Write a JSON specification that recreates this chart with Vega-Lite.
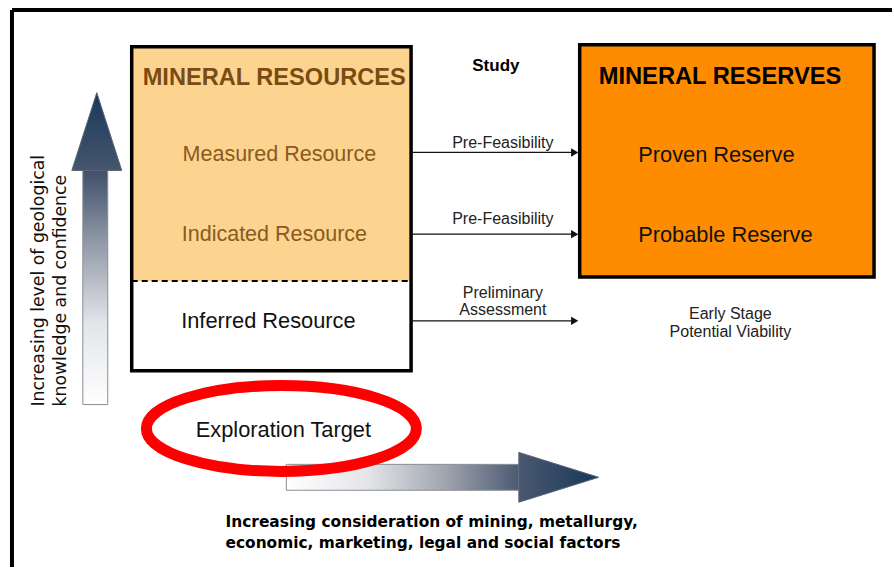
{
  "$schema": "https://vega.github.io/schema/vega-lite/v6.json",
  "width": 894,
  "height": 569,
  "padding": 0,
  "autosize": {"type": "fit", "contains": "padding"},
  "background": "#ffffff",
  "config": {"view": {"stroke": null}, "axis": {"disable": true}, "text": {"font": "Liberation Sans"}},
  "datasets": {
    "frame": [
      {"x": 12, "y": 10, "x2": 894, "y2": 10},
      {"x": 12, "y": 10, "x2": 12, "y2": 569}
    ],
    "resUpper": [{"x": 132, "y": 47, "x2": 412, "y2": 282}],
    "resBorder": [{"x": 132, "y": 47, "x2": 412, "y2": 372}],
    "reserve": [{"x": 581, "y": 45, "x2": 876, "y2": 278}],
    "dash": [{"x": 132, "y": 282, "x2": 412, "y2": 282}],
    "links": [
      {"x": 412, "y": 153, "x2": 574, "y2": 153},
      {"x": 412, "y": 235, "x2": 574, "y2": 235},
      {"x": 412, "y": 322, "x2": 574, "y2": 322}
    ],
    "heads": [
      {"x": 576, "y": 153},
      {"x": 576, "y": 235},
      {"x": 576, "y": 322}
    ],
    "vShaft": [{"x": 83, "y": 171, "x2": 108, "y2": 406}],
    "vHead": [
      {"x": 72, "y": 171, "y2": 171},
      {"x": 97, "y": 93, "y2": 171},
      {"x": 122, "y": 171, "y2": 171}
    ],
    "hShaft": [{"x": 287, "y": 466, "x2": 520, "y2": 492}],
    "hHead": [
      {"x": 520, "y": 454, "x2": 520},
      {"x": 600, "y": 479, "x2": 520},
      {"x": 520, "y": 504, "x2": 520}
    ],
    "ellipse": [{"x": 282, "y": 430}],
    "texts": [
      {"x": 143, "y": 76, "text": "MINERAL RESOURCES", "role": "hdrRes"},
      {"x": 600, "y": 75, "text": "MINERAL RESERVES", "role": "hdrRsv"},
      {"x": 497, "y": 65, "text": "Study", "role": "study"},
      {"x": 280, "y": 153, "text": "Measured Resource", "role": "resItem"},
      {"x": 275, "y": 233, "text": "Indicated Resource", "role": "resItem"},
      {"x": 269, "y": 319, "text": "Inferred Resource", "role": "item"},
      {"x": 718, "y": 153, "text": "Proven Reserve", "role": "item"},
      {"x": 727, "y": 233, "text": "Probable Reserve", "role": "item"},
      {"x": 284, "y": 429, "text": "Exploration Target", "role": "item"},
      {"x": 504, "y": 141, "text": "Pre-Feasibility", "role": "small"},
      {"x": 504, "y": 218, "text": "Pre-Feasibility", "role": "small"},
      {"x": 504, "y": 292, "text": "Preliminary", "role": "small"},
      {"x": 504, "y": 309, "text": "Assessment", "role": "small"},
      {"x": 732, "y": 313, "text": "Early Stage", "role": "small"},
      {"x": 732, "y": 331, "text": "Potential Viability", "role": "small"},
      {"x": 226, "y": 522, "text": "Increasing consideration of mining, metallurgy,", "role": "bottom"},
      {"x": 226, "y": 543, "text": "economic, marketing, legal and social factors", "role": "bottom"},
      {"x": 39, "y": 408, "text": "Increasing level of geological", "role": "vert"},
      {"x": 61, "y": 408, "text": "knowledge and confidence", "role": "vert"}
    ]
  },
  "encoding": {
    "x": {"field": "x", "type": "quantitative", "scale": {"domain": [0, 894], "nice": false, "zero": false}},
    "y": {"field": "y", "type": "quantitative", "scale": {"domain": [0, 569], "nice": false, "zero": false, "reverse": true}}
  },
  "layer": [
    {
      "data": {"name": "resUpper"},
      "mark": {"type": "rect", "fill": "#FDD48F"},
      "encoding": {"x2": {"field": "x2"}, "y2": {"field": "y2"}}
    },
    {
      "data": {"name": "resBorder"},
      "mark": {"type": "rect", "fill": null, "filled": false, "stroke": "#000000", "strokeWidth": 3.5},
      "encoding": {"x2": {"field": "x2"}, "y2": {"field": "y2"}}
    },
    {
      "data": {"name": "reserve"},
      "mark": {"type": "rect", "fill": "#FF8C00", "stroke": "#000000", "strokeWidth": 3.5},
      "encoding": {"x2": {"field": "x2"}, "y2": {"field": "y2"}}
    },
    {
      "data": {"name": "dash"},
      "mark": {"type": "rule", "stroke": "#000000", "strokeWidth": 2, "strokeDash": [6, 4]},
      "encoding": {"x2": {"field": "x2"}, "y2": {"field": "y2"}}
    },
    {
      "data": {"name": "frame"},
      "mark": {"type": "rule", "stroke": "#000000", "strokeWidth": 4},
      "encoding": {"x2": {"field": "x2"}, "y2": {"field": "y2"}}
    },
    {
      "data": {"name": "links"},
      "mark": {"type": "rule", "stroke": "#111111", "strokeWidth": 1.2},
      "encoding": {"x2": {"field": "x2"}, "y2": {"field": "y2"}}
    },
    {
      "data": {"name": "heads"},
      "mark": {"type": "point", "shape": "triangle-right", "filled": true, "fill": "#111111", "stroke": null, "size": 70, "opacity": 1}
    },
    {
      "data": {"name": "vShaft"},
      "mark": {"type": "rect", "stroke": "#8a8e96", "strokeWidth": 1,
        "fill": {"gradient": "linear", "x1": 0, "y1": 1, "x2": 0, "y2": 0,
          "stops": [{"offset": 0, "color": "#ffffff"}, {"offset": 0.35, "color": "#e2e4e8"}, {"offset": 0.7, "color": "#8f97a6"}, {"offset": 1, "color": "#3e4f69"}]}},
      "encoding": {"x2": {"field": "x2"}, "y2": {"field": "y2"}}
    },
    {
      "data": {"name": "vHead"},
      "mark": {"type": "area", "orient": "vertical", "stroke": "#5a6273", "strokeWidth": 1,
        "fill": {"gradient": "linear", "x1": 0, "y1": 1, "x2": 0, "y2": 0,
          "stops": [{"offset": 0, "color": "#46566e"}, {"offset": 1, "color": "#173859"}]}},
      "encoding": {"y2": {"field": "y2"}}
    },
    {
      "data": {"name": "hShaft"},
      "mark": {"type": "rect", "stroke": "#8a8e96", "strokeWidth": 1,
        "fill": {"gradient": "linear", "x1": 0, "y1": 0, "x2": 1, "y2": 0,
          "stops": [{"offset": 0, "color": "#ffffff"}, {"offset": 0.35, "color": "#e4e5e8"}, {"offset": 0.7, "color": "#9ca1ab"}, {"offset": 1, "color": "#4b5a72"}]}},
      "encoding": {"x2": {"field": "x2"}, "y2": {"field": "y2"}}
    },
    {
      "data": {"name": "hHead"},
      "mark": {"type": "area", "orient": "horizontal", "stroke": "#5a6273", "strokeWidth": 1,
        "fill": {"gradient": "linear", "x1": 0, "y1": 0, "x2": 1, "y2": 0,
          "stops": [{"offset": 0, "color": "#4a5870"}, {"offset": 1, "color": "#173859"}]}},
      "encoding": {"x2": {"field": "x2"}}
    },
    {
      "data": {"name": "ellipse"},
      "mark": {"type": "point", "shape": "M-1,0A1,0.318 0 1,1 1,0A1,0.318 0 1,1 -1,0Z", "size": 72900, "filled": false, "stroke": "#FF0000", "strokeWidth": 11, "opacity": 1}
    },
    {
      "data": {"name": "texts"},
      "transform": [{"filter": "datum.role == 'hdrRes'"}],
      "mark": {"type": "text", "align": "left", "baseline": "middle", "dy": 2, "fontSize": 23.6, "fontWeight": "bold", "color": "#7a4b12"},
      "encoding": {"text": {"field": "text"}}
    },
    {
      "data": {"name": "texts"},
      "transform": [{"filter": "datum.role == 'hdrRsv'"}],
      "mark": {"type": "text", "align": "left", "baseline": "middle", "dy": 2, "fontSize": 23.7, "fontWeight": "bold", "color": "#000000"},
      "encoding": {"text": {"field": "text"}}
    },
    {
      "data": {"name": "texts"},
      "transform": [{"filter": "datum.role == 'study'"}],
      "mark": {"type": "text", "align": "center", "baseline": "middle", "dy": 1, "fontSize": 17, "fontWeight": "bold", "color": "#000000"},
      "encoding": {"text": {"field": "text"}}
    },
    {
      "data": {"name": "texts"},
      "transform": [{"filter": "datum.role == 'resItem'"}],
      "mark": {"type": "text", "align": "center", "baseline": "middle", "dy": 3, "fontSize": 21.5, "color": "#8a5a20"},
      "encoding": {"text": {"field": "text"}}
    },
    {
      "data": {"name": "texts"},
      "transform": [{"filter": "datum.role == 'item'"}],
      "mark": {"type": "text", "align": "center", "baseline": "middle", "dy": 3, "fontSize": 21.8, "color": "#111111"},
      "encoding": {"text": {"field": "text"}}
    },
    {
      "data": {"name": "texts"},
      "transform": [{"filter": "datum.role == 'small'"}],
      "mark": {"type": "text", "align": "center", "baseline": "middle", "dy": 2, "fontSize": 16, "color": "#222222"},
      "encoding": {"text": {"field": "text"}}
    },
    {
      "data": {"name": "texts"},
      "transform": [{"filter": "datum.role == 'bottom'"}],
      "mark": {"type": "text", "align": "left", "baseline": "middle", "dy": 2, "font": "DejaVu Sans", "fontSize": 15.4, "fontWeight": "bold", "color": "#000000"},
      "encoding": {"text": {"field": "text"}}
    },
    {
      "data": {"name": "texts"},
      "transform": [{"filter": "datum.role == 'vert'"}],
      "mark": {"type": "text", "align": "left", "baseline": "middle", "angle": 270, "font": "DejaVu Sans", "fontSize": 17.3, "color": "#111111"},
      "encoding": {"text": {"field": "text"}}
    }
  ]
}
